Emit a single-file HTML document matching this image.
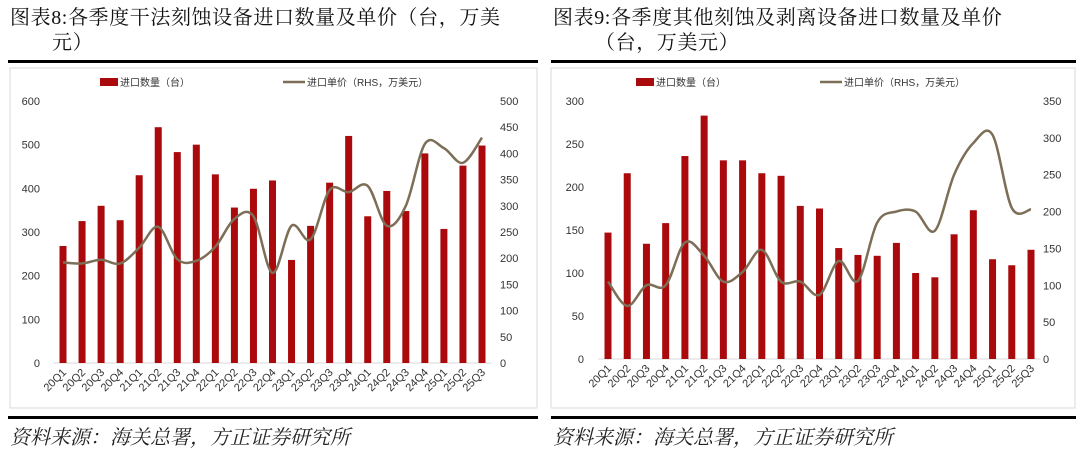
<!DOCTYPE html>
<html><head><meta charset="utf-8"><style>
body{margin:0;width:1080px;height:447px;background:#fff;overflow:hidden;font-family:"Liberation Sans","Noto Sans CJK SC",sans-serif;}
.t{position:absolute;font-family:"Liberation Serif","Noto Serif CJK SC",serif;font-size:20px;color:#111;line-height:25px;letter-spacing:0.6px;}
.rule{position:absolute;height:3px;background:#000;}
.src{position:absolute;font-family:"Noto Serif CJK SC",serif;font-style:italic;font-size:20px;color:#222;top:421px;}
svg{position:absolute;left:0;top:0}
</style></head><body>
<div class="t" style="left:10px;top:6px;width:545px">图表8:各季度干法刻蚀设备进口数量及单价（台，万美<br><span style="padding-left:42px">元）</span></div>
<div class="t" style="left:553px;top:6px;width:530px">图表9:各季度其他刻蚀及剥离设备进口数量及单价<br><span style="padding-left:42px">（台，万美元）</span></div>
<div class="rule" style="left:8px;top:60px;width:530px"></div>
<div class="rule" style="left:551px;top:60px;width:525px"></div>
<div class="rule" style="left:8px;top:416px;width:530px"></div>
<div class="rule" style="left:551px;top:416px;width:525px"></div>
<div class="src" style="left:10px">资料来源：海关总署，方正证券研究所</div>
<div class="src" style="left:553px">资料来源：海关总署，方正证券研究所</div>
<svg id="svg" width="1080" height="447"></svg>
<script>
const categories=["20Q1","20Q2","20Q3","20Q4","21Q1","21Q2","21Q3","21Q4","22Q1","22Q2","22Q3","22Q4","23Q1","23Q2","23Q3","23Q4","24Q1","24Q2","24Q3","24Q4","25Q1","25Q2","25Q3"];
const qty8=[268,325,360,327,430,540,483,500,432,356,399,418,236,314,413,520,336,394,348,480,307,452,498];
const price8=[192,190,197,190,220,260,198,195,222,275,280,172,262,236,330,326,338,262,300,418,410,382,430];
const qty9=[147,216,134,158,236,283,231,231,216,213,178,175,129,121,120,135,100,95,145,173,116,109,127];
const price9=[105,72,100,100,158,140,105,118,148,105,105,87,133,106,185,200,200,174,250,293,304,205,203];
const ticksL8=[0,100,200,300,400,500,600];
const ticksR8=[0,50,100,150,200,250,300,350,400,450,500];
const ticksL9=[0,50,100,150,200,250,300];
const ticksR9=[0,50,100,150,200,250,300,350];
const NS="http://www.w3.org/2000/svg";
const svg=document.getElementById('svg');
function mk(tag,attrs,parent){const e=document.createElementNS(NS,tag);for(const k in attrs)e.setAttribute(k,attrs[k]);(parent||svg).appendChild(e);return e;}
function chart(cfg,qty,price,tL,tR,name){
  const g=mk('g',{});
  
  
  const box=mk('rect',{x:cfg.bx,y:68,width:cfg.bw,height:340,fill:'#fff',stroke:'#d9d9d9'},g);
  
  
  const n=categories.length, step=(cfg.x1-cfg.x0)/(n-1);
  const X=i=>cfg.x0+i*step;
  const yL=v=>cfg.y0-(v/tL[tL.length-1])*(cfg.y0-cfg.yt);
  const yR=v=>cfg.y0-(v/tR[tR.length-1])*(cfg.y0-cfg.yt);
  const ax=mk('line',{x1:cfg.x0-step/2,x2:cfg.x1+step/2,y1:cfg.y0,y2:cfg.y0,stroke:'#d9d9d9'},g);
  
  
  tL.forEach(v=>{const t=mk('text',{x:cfg.lx,y:yL(v)+4,'text-anchor':'end','font-size':11,fill:'#333'},g);t.textContent=v;
    
    });
  tR.forEach(v=>{const t=mk('text',{x:cfg.rx,y:yR(v)+4,'text-anchor':'start','font-size':11,fill:'#333'},g);t.textContent=v;
    
    });
  qty.forEach((v,i)=>{const r=mk('rect',{x:X(i)-3.5,y:yL(v),width:7,height:cfg.y0-yL(v),fill:'#aa0a0c'},g);
    
    });
  categories.forEach((c,i)=>{const t=mk('text',{x:X(i)+4,y:cfg.y0+10,'text-anchor':'end','font-size':11,fill:'#333',transform:`rotate(-45 ${X(i)+4} ${cfg.y0+10})`},g);t.textContent=c;
    
    });
  const P=price.map((v,i)=>[X(i),yR(v)]);
  let d=`M${P[0][0]},${P[0][1]}`;
  for(let i=0;i<P.length-1;i++){const p0=P[Math.max(0,i-1)],p1=P[i],p2=P[i+1],p3=P[Math.min(P.length-1,i+2)];
    d+=` C${p1[0]+(p2[0]-p0[0])/6},${p1[1]+(p2[1]-p0[1])/6} ${p2[0]-(p3[0]-p1[0])/6},${p2[1]-(p3[1]-p1[1])/6} ${p2[0]},${p2[1]}`;}
  const l=mk('path',{d:d,fill:'none',stroke:'#7d6e57','stroke-width':2.5},g);
  
  
  const lr=mk('rect',{x:cfg.lg1,y:78,width:18,height:8,fill:'#aa0a0c'},g);
  
  
  const lt=mk('text',{x:cfg.lg1+20,y:86,'font-size':10,fill:'#333'},g);lt.textContent='进口数量（台）';
  
  
  const ll=mk('line',{x1:cfg.lg2,x2:cfg.lg2+22,y1:82,y2:82,stroke:'#7d6e57','stroke-width':2.5},g);
  
  
  const lt2=mk('text',{x:cfg.lg2+24,y:86,'font-size':10,fill:'#333'},g);lt2.textContent='进口单价（RHS，万美元）';
  
  
}
chart({bx:10,bw:527,x0:63,x1:482,y0:363,yt:101,lx:40,rx:500,lg1:100,lg2:283},qty8,price8,ticksL8,ticksR8,'chart8');
chart({bx:551,bw:524,x0:608,x1:1031,y0:359,yt:101,lx:584,rx:1043,lg1:636,lg2:820},qty9,price9,ticksL9,ticksR9,'chart9');
</script>
</body></html>
